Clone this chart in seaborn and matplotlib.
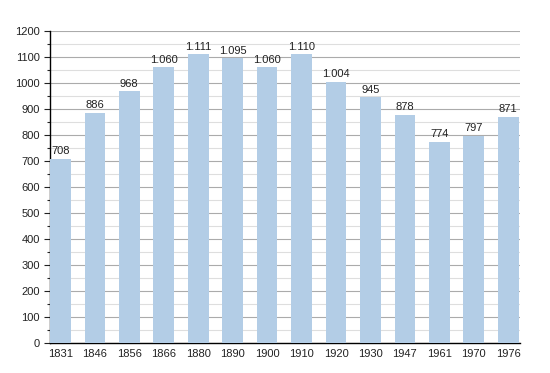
import matplotlib
matplotlib.use("Agg")
import matplotlib.pyplot as plt
import seaborn as sns
import pandas as pd
from matplotlib.ticker import MultipleLocator

years = ["1831", "1846", "1856", "1866", "1880", "1890", "1900", "1910",
         "1920", "1930", "1947", "1961", "1970", "1976"]
population = [708, 886, 968, 1060, 1111, 1095, 1060, 1110, 1004, 945, 878, 774, 797, 871]
labels = ["708", "886", "968", "1.060", "1.111", "1.095", "1.060", "1.110",
          "1.004", "945", "878", "774", "797", "871"]

df = pd.DataFrame({"year": years, "pop": population})

sns.set_style("white")
plt.rcParams["font.family"] = ["Liberation Sans", "DejaVu Sans"]

fig = plt.figure(figsize=(5.5, 3.73), dpi=100)
ax = fig.add_axes([0.091, 0.080, 0.855, 0.837])

sns.barplot(data=df, x="year", y="pop", color="#b3cde6", width=0.6,
            saturation=1, linewidth=0, edgecolor="none", ax=ax, zorder=3)

for i, (v, lab) in enumerate(zip(population, labels)):
    ax.text(i, v + 10, lab, ha="center", va="bottom", fontsize=8, color="#222222")

ax.set_ylim(0, 1200)
ax.set_xlim(-0.3, 13.35)
ax.yaxis.set_major_locator(MultipleLocator(100))
ax.yaxis.set_minor_locator(MultipleLocator(50))
ax.grid(axis="y", which="major", color="#ababab", linewidth=0.8, zorder=0)
ax.grid(axis="y", which="minor", color="#dedede", linewidth=0.8, zorder=0)
ax.set_axisbelow(True)

ax.tick_params(axis="y", which="major", length=4, width=0.8, direction="out",
               labelsize=8, left=True, colors="#222222")
ax.tick_params(axis="y", which="minor", length=2, width=0.8, left=True)
ax.tick_params(axis="x", length=0, labelsize=8, pad=4, colors="#222222")

for s in ["top", "right"]:
    ax.spines[s].set_visible(False)
ax.spines["left"].set_color("black")
ax.spines["bottom"].set_color("black")
ax.spines["left"].set_linewidth(1)
ax.spines["bottom"].set_linewidth(1)

ax.set_xlabel("")
ax.set_ylabel("")

fig.savefig("out.png", dpi=100)
